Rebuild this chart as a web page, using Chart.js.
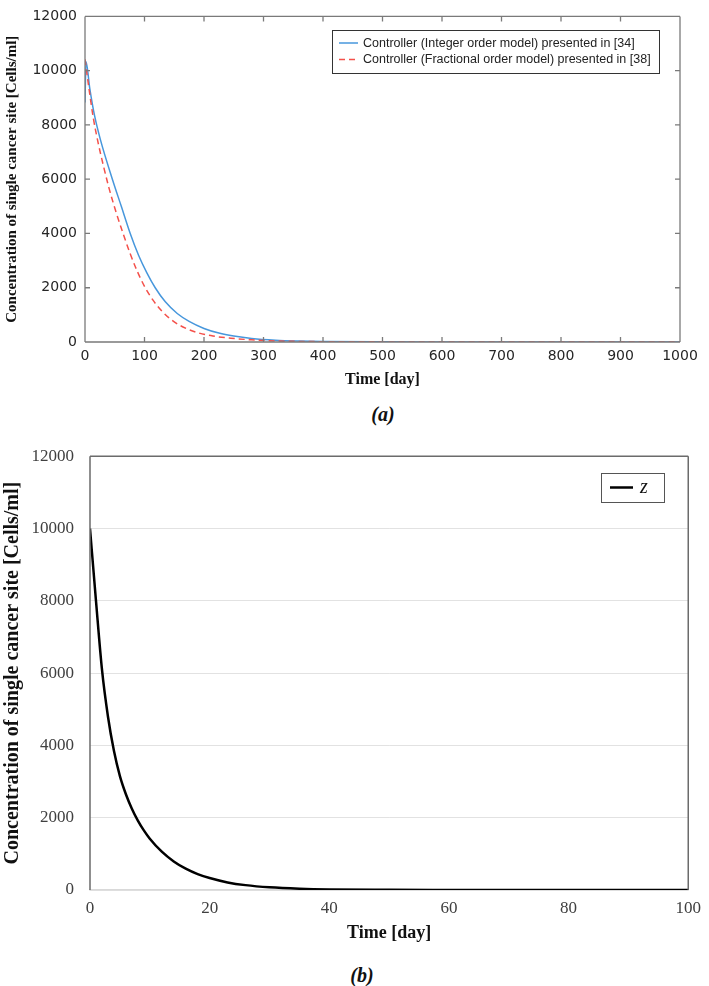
<!DOCTYPE html>
<html>
<head>
<meta charset="utf-8">
<script src="https://cdn.jsdelivr.net/npm/chart.js@4.4.0/dist/chart.umd.min.js"></script>
<style>
  html, body { margin:0; padding:0; background:#fff; }
  #page { position:relative; width:709px; height:986px; overflow:hidden; }
  .box  { position:absolute; left:0; width:709px; }
  #boxA { top:0;     height:395px; }
  #boxB { top:430px; height:520px; }
  .cap  { position:absolute; transform:translate(-50%,-50%); white-space:nowrap;
          font-family:'Liberation Serif','Times New Roman',serif; font-weight:bold; font-style:italic;
          font-size:20px; color:#111; }
</style>
</head>
<body>
<div id="page">
  <div class="box" id="boxA"><canvas id="chartA"></canvas></div>
  <div class="cap" style="left:383px; top:414px">(a)</div>
  <div class="box" id="boxB"><canvas id="chartB"></canvas></div>
  <div class="cap" style="left:362px; top:975px">(b)</div>
</div>

<script>
// ── data (a) – integer vs fractional order controller ─────────
const intDays  = [0, 1.7, 8, 16, 26, 46, 61, 76, 90, 104, 118, 135, 155, 175, 200, 225, 250, 280, 320, 360, 400, 500, 600, 700, 800, 1000];
const intConc  = [8830, 10330, 9350, 8350, 7450, 6000, 5000, 4000, 3200, 2550, 2000, 1480, 1050, 760, 500, 330, 220, 130, 65, 35, 20, 6, 2, 1, 0, 0];
const fracDays = [0, 6, 14, 22, 32, 40, 52, 64, 76, 88, 100, 114, 130, 150, 170, 190, 215, 245, 280, 320, 400, 500, 600, 700, 1000];
const fracConc = [10420, 9450, 8250, 7350, 6400, 5700, 4800, 4000, 3250, 2600, 2050, 1550, 1120, 740, 500, 340, 220, 140, 80, 40, 12, 4, 1, 0, 0];

// ── data (b) – z ──────────────────────────────────────────────
const zDays = [0, 1, 2, 3, 4, 5, 6, 7, 8, 9, 10, 12, 14, 16, 18, 20, 23, 26, 30, 35, 40, 50, 60, 80, 100];
const zConc = [10000, 8000, 6100, 4800, 3850, 3150, 2650, 2250, 1920, 1650, 1420, 1060, 790, 590, 440, 330, 210, 135, 75, 35, 15, 5, 2, 1, 0];

const Y_TITLE = 'Concentration of single cancer site [Cells/ml]';
const X_TITLE = 'Time [day]';

const pts = (xs, ys) => xs.map((x, i) => ({ x, y: ys[i] }));
const plain = v => String(v);

// ═══════════════════════════════════════════════════════════════
//  PLUGINS
// ═══════════════════════════════════════════════════════════════

// box around the plot, optional inward tick marks (matlab look)
const frame = {
  id: 'frame',
  afterDatasetsDraw(chart, args, o) {
    const { ctx, chartArea: { left, right, top, bottom }, scales: { x, y } } = chart;
    ctx.save();
    ctx.strokeStyle = o.color;
    ctx.lineWidth = o.width;
    ctx.beginPath();
    if (o.sides.includes('left'))   { ctx.moveTo(left, bottom);  ctx.lineTo(left, top); }
    if (o.sides.includes('top'))    { ctx.moveTo(left, top);     ctx.lineTo(right, top); }
    if (o.sides.includes('right'))  { ctx.moveTo(right, top);    ctx.lineTo(right, bottom); }
    if (o.sides.includes('bottom')) { ctx.moveTo(left, bottom);  ctx.lineTo(right, bottom); }
    if (o.tickLen) {
      const t = o.tickLen;
      x.ticks.forEach(tk => {
        const px = x.getPixelForValue(tk.value);
        ctx.moveTo(px, bottom); ctx.lineTo(px, bottom - t);
        ctx.moveTo(px, top);    ctx.lineTo(px, top + t);
      });
      y.ticks.forEach(tk => {
        const py = y.getPixelForValue(tk.value);
        ctx.moveTo(left, py);  ctx.lineTo(left + t, py);
        ctx.moveTo(right, py); ctx.lineTo(right - t, py);
      });
    }
    ctx.stroke();
    ctx.restore();
  }
};

// legend box drawn inside the plot area
const insideLegend = {
  id: 'insideLegend',
  afterDraw(chart, args, o) {
    const { ctx } = chart;
    ctx.save();
    ctx.fillStyle = '#fff';
    ctx.fillRect(o.x, o.y, o.w, o.h);
    ctx.strokeStyle = o.border;
    ctx.lineWidth = 1;
    ctx.strokeRect(o.x + 0.5, o.y + 0.5, o.w, o.h);
    chart.data.datasets.forEach((ds, i) => {
      const ly = o.y + o.rowTop + i * o.rowGap;
      ctx.strokeStyle = ds.borderColor;
      ctx.lineWidth = ds.borderWidth;
      ctx.setLineDash(ds.borderDash || []);
      ctx.beginPath();
      ctx.moveTo(o.x + o.lineX0, ly);
      ctx.lineTo(o.x + o.lineX1, ly);
      ctx.stroke();
      ctx.setLineDash([]);
      ctx.fillStyle = o.textColor;
      ctx.font = o.font;
      ctx.textBaseline = 'middle';
      ctx.fillText(ds.label, o.x + o.textX, ly + 0.5);
    });
    ctx.restore();
  }
};

// ═══════════════════════════════════════════════════════════════
//  CHART (a)
// ═══════════════════════════════════════════════════════════════

const SANS  = "'DejaVu Sans', sans-serif";
const SERIF = "'Liberation Serif', 'Times New Roman', serif";

new Chart(document.getElementById('chartA'), {
  type: 'line',
  data: {
    datasets: [
      { label: 'Controller (Integer order model) presented in [34]', data: pts(intDays, intConc),
        borderColor: '#4797dc', borderWidth: 1.5, pointRadius: 0, cubicInterpolationMode: 'monotone', order: 1 },
      { label: 'Controller (Fractional order model) presented in [38]', data: pts(fracDays, fracConc),
        borderColor: '#f4504a', borderWidth: 1.5, borderDash: [6, 4], pointRadius: 0, cubicInterpolationMode: 'monotone', order: 0 },
    ]
  },
  options: {
    responsive: true, maintainAspectRatio: false, animation: false,
    layout: { padding: { left: 0, top: 9, right: 29, bottom: 0 } },
    plugins: {
      legend: { display: false }, tooltip: { enabled: false },
      frame: { color: '#7a7a7a', width: 1.3, sides: ['left', 'top', 'right', 'bottom'], tickLen: 5 },
      insideLegend: { x: 332, y: 30, w: 327, h: 43, rowTop: 13, rowGap: 16.5, lineX0: 7, lineX1: 26, textX: 31,
                      border: '#333', textColor: '#222', font: "12.5px 'Liberation Sans', Arial, sans-serif" }
    },
    scales: {
      x: {
        type: 'linear', min: 0, max: 1000,
        afterFit: s => { s.height = 53; },
        grid: { display: false, drawTicks: false }, border: { display: false },
        ticks: { stepSize: 100, padding: 6, color: '#262626', font: { family: SANS, size: 14 }, callback: plain },
        title: { display: true, text: X_TITLE, color: '#111', padding: { top: 0, bottom: 6 },
                 font: { family: SERIF, size: 16, weight: 'bold' } }
      },
      y: {
        min: 0, max: 12000,
        afterFit: s => { s.width = 85; },
        grid: { display: false, drawTicks: false }, border: { display: false },
        ticks: { stepSize: 2000, padding: 8, color: '#262626', font: { family: SANS, size: 14 }, callback: plain },
        title: { display: true, text: Y_TITLE, color: '#111', padding: { top: 3, bottom: 0 },
                 font: { family: SERIF, size: 15, weight: 'bold' } }
      }
    }
  },
  plugins: [frame, insideLegend]
});

// ═══════════════════════════════════════════════════════════════
//  CHART (b)
// ═══════════════════════════════════════════════════════════════

new Chart(document.getElementById('chartB'), {
  type: 'line',
  data: {
    datasets: [
      { label: 'z', data: pts(zDays, zConc), borderColor: '#000', borderWidth: 2.5,
        pointRadius: 0, cubicInterpolationMode: 'monotone' }
    ]
  },
  options: {
    responsive: true, maintainAspectRatio: false, animation: false,
    layout: { padding: { left: 0, top: 24, right: 15, bottom: 0 } },
    plugins: {
      legend: { display: false }, tooltip: { enabled: false },
      frame: { color: '#6b6b6b', width: 1.5, sides: ['left', 'top', 'right'], tickLen: 0 },
      insideLegend: { x: 601, y: 43, w: 63, h: 29, rowTop: 14.5, rowGap: 0, lineX0: 9, lineX1: 32, textX: 39,
                      border: '#555', textColor: '#111', font: "italic 20px 'Liberation Serif', 'Times New Roman', serif" }
    },
    scales: {
      x: {
        type: 'linear', min: 0, max: 100,
        afterFit: s => { s.height = 60; },
        grid: { display: false, drawTicks: false },
        border: { display: true, color: '#d9d9d9', width: 1.5 },
        ticks: { stepSize: 20, padding: 8, color: '#404040', font: { family: SERIF, size: 17 }, callback: plain },
        title: { display: true, text: X_TITLE, color: '#111', padding: { top: 0, bottom: 6 },
                 font: { family: SERIF, size: 18, weight: 'bold' } }
      },
      y: {
        min: 0, max: 12000,
        afterFit: s => { s.width = 90; },
        grid: { color: '#e2e2e2', lineWidth: 1, drawTicks: false }, border: { display: false },
        ticks: { stepSize: 2000, padding: 16, color: '#404040', font: { family: SERIF, size: 17 }, callback: plain },
        title: { display: true, text: Y_TITLE, color: '#111', padding: { top: 1, bottom: 0 },
                 font: { family: SERIF, size: 20, weight: 'bold' } }
      }
    }
  },
  plugins: [frame, insideLegend]
});
</script>
</body>
</html>
